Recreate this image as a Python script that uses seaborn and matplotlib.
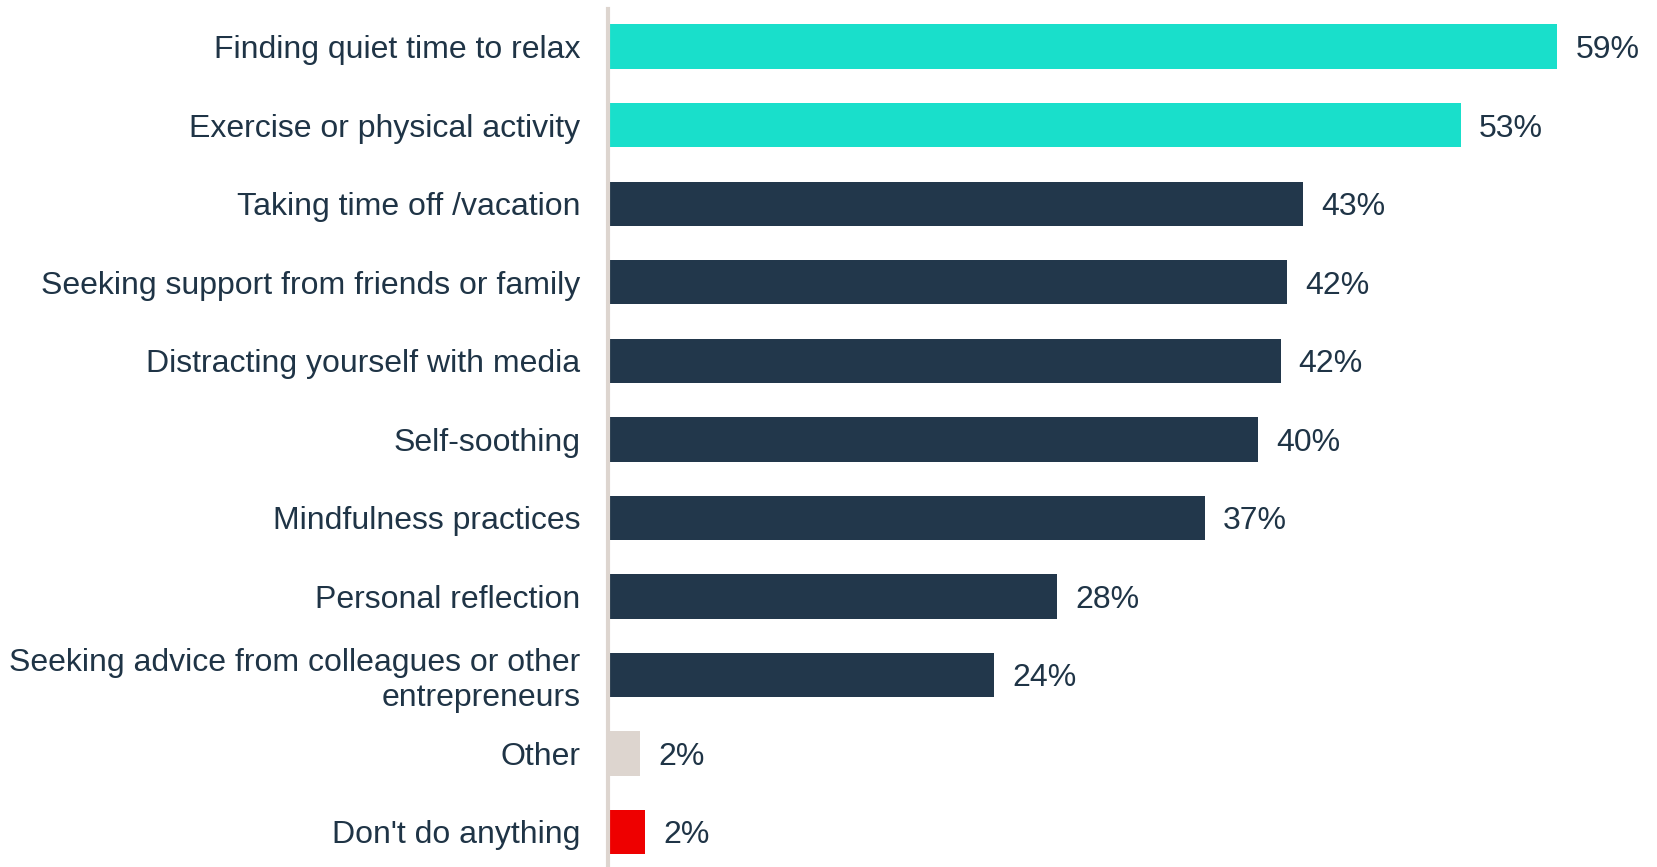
import matplotlib
matplotlib.use("Agg")
import matplotlib.pyplot as plt
import seaborn as sns
import pandas as pd

categories = [
    "Finding quiet time to relax",
    "Exercise or physical activity",
    "Taking time off /vacation",
    "Seeking support from friends or family",
    "Distracting yourself with media",
    "Self-soothing",
    "Mindfulness practices",
    "Personal reflection",
    "Seeking advice from colleagues or other\nentrepreneurs",
    "Other",
    "Don't do anything",
]
values = [59.0, 53.0, 43.2, 42.2, 41.8, 40.4, 37.1, 27.9, 24.0, 2.0, 2.3]
bar_colors = ["#19DFCB", "#19DFCB", "#22374B", "#22374B", "#22374B", "#22374B",
              "#22374B", "#22374B", "#22374B", "#DDD5CF", "#EE0000"]

TEXT = "#1F3446"

sns.set_theme(style="white")
plt.rcParams["font.family"] = ["Liberation Sans", "DejaVu Sans"]

df = pd.DataFrame({"category": categories, "value": values})

fig = plt.figure(figsize=(16.58, 8.67), dpi=100)
ax = fig.add_axes([0.3667, 0.0, 0.6333, 0.990])

sns.barplot(data=df, x="value", y="category", hue="category",
            palette=bar_colors, legend=False, width=0.565, ax=ax,
            saturation=1, linewidth=0)

ax.set_xlim(0, 65.25)
ax.set_ylim(10.446, -0.484)
ax.set_xlabel("")
ax.set_ylabel("")
ax.set_xticks([])
ax.tick_params(axis="y", length=0, pad=20, labelsize=23, labelcolor=TEXT)
for lbl in ax.get_yticklabels():
    lbl.set_horizontalalignment("right")
    lbl.set_multialignment("right")
    lbl.set_linespacing(1.2)
    lbl.set_verticalalignment("center_baseline")

for side in ["top", "right", "bottom"]:
    ax.spines[side].set_visible(False)
ax.spines["left"].set_color("#DDD5CF")
ax.spines["left"].set_linewidth(3)

for i, v in enumerate(values):
    ax.annotate(f"{v:.0f}%", xy=(v, i), xytext=(13, 0), textcoords="offset points",
                va="center_baseline", ha="left", fontsize=23, color=TEXT)

fig.savefig("out.png", dpi=100, facecolor="white")
